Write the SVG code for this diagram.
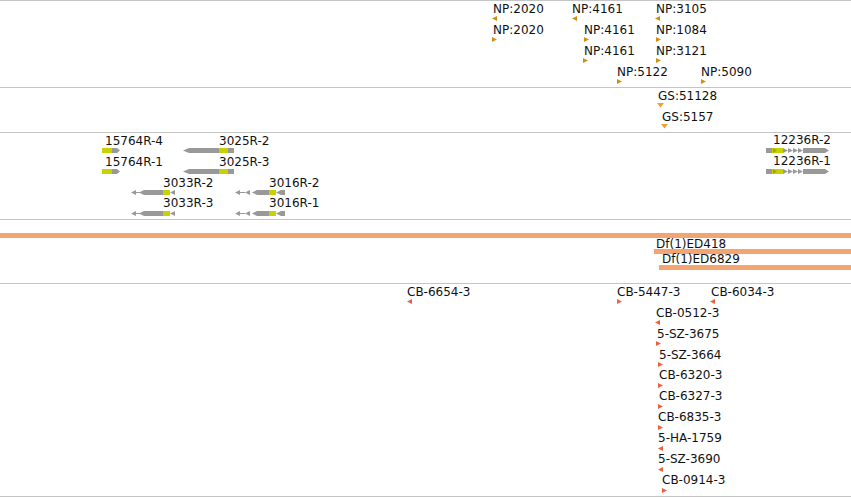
<svg xmlns="http://www.w3.org/2000/svg" xmlns:xlink="http://www.w3.org/1999/xlink" width="851" height="497" viewBox="0 0 851 497">
<style>
text{font-family:"DejaVu Sans","Liberation Sans",sans-serif;font-size:12px;fill:#111}
.sep{stroke:#c4c4c4;stroke-width:1}
.np{fill:#d09010}
.gs{fill:#f0a030}
.cb{fill:#f0603c}
.gr{fill:#999999}
.yl{fill:#c8d200}
.band{fill:#f4a470}
</style>
<defs>
<path id="tl" d="M0,2.5 L5,0 L5,5 Z"/>
<path id="tr" d="M0,0 L5,2.5 L0,5 Z"/>
<path id="td" d="M0,0 L7,0 L3.5,4.5 Z"/>
</defs>
<rect width="851" height="497" fill="#ffffff"/>
<g id="separators">
<line class="sep" x1="0" y1="0.5" x2="851" y2="0.5"/>
<line class="sep" x1="0" y1="87.5" x2="851" y2="87.5"/>
<line class="sep" x1="0" y1="132.5" x2="851" y2="132.5"/>
<line class="sep" x1="0" y1="219.5" x2="851" y2="219.5"/>
<line class="sep" x1="0" y1="283.5" x2="851" y2="283.5"/>
<line class="sep" x1="0" y1="496.5" x2="851" y2="496.5"/>
</g>
<g id="connectors"></g>
<g id="np-track">
<g id="np1"><text x="493" y="13">NP:2020</text><use href="#tl" class="np" x="492" y="16"/></g>
<g id="np2"><text x="572" y="13">NP:4161</text><use href="#tl" class="np" x="572" y="16"/></g>
<g id="np3"><text x="656" y="13">NP:3105</text><use href="#tl" class="np" x="655" y="16"/></g>
<g id="np4"><text x="493" y="34">NP:2020</text><use href="#tr" class="np" x="492" y="37"/></g>
<g id="np5"><text x="584" y="34">NP:4161</text><use href="#tr" class="np" x="584" y="37"/></g>
<g id="np6"><text x="656" y="34">NP:1084</text><use href="#tr" class="np" x="656" y="37"/></g>
<g id="np7"><text x="584" y="55">NP:4161</text><use href="#tr" class="np" x="583" y="58"/></g>
<g id="np8"><text x="656" y="55">NP:3121</text><use href="#tr" class="np" x="656" y="58"/></g>
<g id="np9"><text x="617" y="76">NP:5122</text><use href="#tr" class="np" x="617" y="79"/></g>
<g id="np10"><text x="701" y="76">NP:5090</text><use href="#tr" class="np" x="701" y="79"/></g>
</g>
<g id="gs-track">
<g id="gs1"><text x="658" y="100">GS:51128</text><use href="#td" class="gs" x="657" y="103"/></g>
<g id="gs2"><text x="662" y="121">GS:5157</text><use href="#td" class="gs" x="661" y="124"/></g>
</g>
<g id="gene-track">
<g id="g15764R-4"><text x="105" y="144.5">15764R-4</text><rect class="yl" x="102" y="148" width="10" height="5"/><path class="gr" d="M112,148 L117,148 L120,150.5 L117,153 L112,153 Z"/></g>
<g id="g15764R-1"><text x="105" y="165.5">15764R-1</text><rect class="yl" x="102" y="169" width="10" height="5"/><path class="gr" d="M112,169 L117,169 L120,171.5 L117,174 L112,174 Z"/></g>
<g id="g3025R-2"><text x="219" y="144.5">3025R-2</text><path class="gr" d="M183,150.5 L189,148 L219,148 L219,153 L189,153 Z"/><rect class="yl" x="219" y="148" width="9" height="5"/><rect class="gr" x="228" y="148" width="6" height="5"/></g>
<g id="g3025R-3"><text x="219" y="165.5">3025R-3</text><path class="gr" d="M183,171.5 L189,169 L219,169 L219,174 L189,174 Z"/><rect class="yl" x="219" y="169" width="9" height="5"/><rect class="gr" x="228" y="169" width="6" height="5"/></g>
<g id="g3033R-2"><text x="163" y="186.5">3033R-2</text><path class="gr" d="M131,192.5 L136,190 L136,192 L140,192 L140,193 L136,193 L136,195 Z M139,192.5 L144,190 L163,190 L163,195 L144,195 Z M170,192.5 L175,190 L175,195 Z"/><rect class="yl" x="163" y="190" width="7" height="5"/></g>
<g id="g3033R-3"><text x="163" y="207">3033R-3</text><path class="gr" d="M131,213.5 L136,211 L136,213 L140,213 L140,214 L136,214 L136,216 Z M139,213.5 L144,211 L163,211 L163,216 L144,216 Z M170,213.5 L175,211 L175,216 Z"/><rect class="yl" x="163" y="211" width="7" height="5"/></g>
<g id="g3016R-2"><text x="269" y="186.5">3016R-2</text><path class="gr" d="M235,192.5 L240,190 L240,192 L245,192 L245,193 L240,193 L240,195 Z M245,192.5 L250,190 L250,195 Z M252,192.5 L257,190 L269,190 L269,195 L257,195 Z M276,192.5 L281,190 L285,190 L285,195 L281,195 Z"/><rect class="yl" x="269" y="190" width="7" height="5"/></g>
<g id="g3016R-1"><text x="269" y="207">3016R-1</text><path class="gr" d="M235,213.5 L240,211 L240,213 L245,213 L245,214 L240,214 L240,216 Z M245,213.5 L250,211 L250,216 Z M252,213.5 L257,211 L269,211 L269,216 L257,216 Z M276,213.5 L281,211 L285,211 L285,216 L281,216 Z"/><rect class="yl" x="269" y="211" width="7" height="5"/></g>
<g id="g12236R-2"><text x="773" y="144">12236R-2</text><rect class="gr" x="766" y="148" width="6" height="5"/><rect class="yl" x="772" y="148" width="11" height="5"/><path fill="#a0a800" d="M773,148 L777,150.5 L773,153 Z"/><path class="gr" d="M783,148 L788,150.5 L783,153 Z M788,148 L793,150.5 L788,153 Z M793,148 L798,150.5 L793,153 Z M798,148 L803,150.5 L798,153 Z M803,148 L825,148 L829,150.5 L825,153 L803,153 Z"/></g>
<g id="g12236R-1"><text x="773" y="165">12236R-1</text><rect class="gr" x="766" y="169" width="6" height="5"/><rect class="yl" x="772" y="169" width="11" height="5"/><path fill="#a0a800" d="M773,169 L777,171.5 L773,174 Z"/><path class="gr" d="M783,169 L788,171.5 L783,174 Z M788,169 L793,171.5 L788,174 Z M793,169 L798,171.5 L793,174 Z M798,169 L803,171.5 L798,174 Z M803,169 L825,169 L829,171.5 L825,174 L803,174 Z"/></g>
</g>
<g id="deficiency-track">
<g id="band-main"><rect class="band" x="0" y="233" width="851" height="5"/></g>
<g id="dfED418"><text x="656" y="247.5">Df(1)ED418</text><rect class="band" x="654" y="249" width="197" height="5"/></g>
<g id="dfED6829"><text x="662" y="263">Df(1)ED6829</text><rect class="band" x="659" y="265" width="192" height="5"/></g>
</g>
<g id="cb-track">
<g id="cb1"><text x="407" y="296">CB-6654-3</text><use href="#tl" class="cb" x="407" y="299"/></g>
<g id="cb2"><text x="617" y="296">CB-5447-3</text><use href="#tr" class="cb" x="617" y="299"/></g>
<g id="cb3"><text x="711" y="296">CB-6034-3</text><use href="#tl" class="cb" x="710" y="299"/></g>
<g id="cb4"><text x="656" y="317">CB-0512-3</text><use href="#tl" class="cb" x="655" y="320"/></g>
<g id="cb5"><text x="657" y="337.5">5-SZ-3675</text><use href="#tr" class="cb" x="656" y="341"/></g>
<g id="cb6"><text x="659" y="358.5">5-SZ-3664</text><use href="#tr" class="cb" x="658" y="362"/></g>
<g id="cb7"><text x="659" y="379">CB-6320-3</text><use href="#tr" class="cb" x="658" y="383"/></g>
<g id="cb8"><text x="659" y="400">CB-6327-3</text><use href="#tr" class="cb" x="658" y="404"/></g>
<g id="cb9"><text x="658" y="421">CB-6835-3</text><use href="#tr" class="cb" x="658" y="425"/></g>
<g id="cb10"><text x="658" y="442">5-HA-1759</text><use href="#tl" class="cb" x="658" y="446"/></g>
<g id="cb11"><text x="658" y="463">5-SZ-3690</text><use href="#tl" class="cb" x="658" y="467"/></g>
<g id="cb12"><text x="662" y="484">CB-0914-3</text><use href="#tr" class="cb" x="662" y="488"/></g>
</g>
</svg>
